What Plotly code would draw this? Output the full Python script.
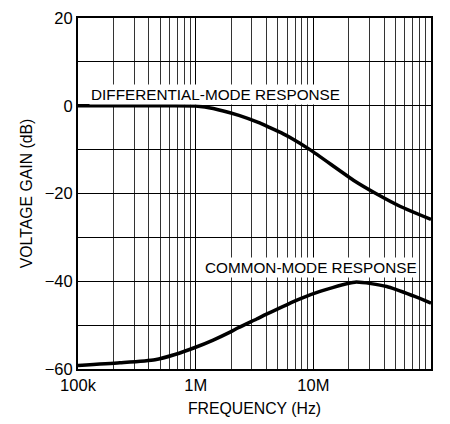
import plotly.graph_objects as go

# Differential-mode response
diff_freq = [1e5, 3e5, 6e5, 1.0e6, 1.2e6, 1.72e6, 2.33e6, 3.4e6, 4.28e6, 5.55e6, 6.3e6, 9.35e6, 22.6e6, 34e6, 54.4e6, 1e8]
diff_gain = [0.0, 0.0, 0.0, -0.05, -0.3, -1.2, -2.2, -3.8, -5.0, -6.4, -7.2, -10.0, -17.2, -20.0, -22.9, -25.9]

# Common-mode response
cm_freq = [1e5, 2.27e5, 4.51e5, 6.67e5, 9.86e5, 1.41e6, 1.96e6, 2.3e6, 3.3e6, 4.0e6, 7.7e6, 11.4e6, 22.6e6, 42e6, 70e6, 1e8]
cm_gain = [-59.2, -58.6, -57.9, -56.7, -55.1, -53.4, -51.6, -50.6, -48.6, -47.5, -44.0, -42.3, -40.2, -41.2, -43.3, -45.0]

x_tickvals = [1e5, 1e6, 1e7, 1e8]
x_ticktext = ["100k", "1M", "10M", "100M"]
y_tickvals = [-60, -40, -20, 0, 20]

FONT = "Liberation Sans, Arial, sans-serif"

fig = go.Figure()
fig.add_trace(go.Scatter(x=diff_freq, y=diff_gain, mode="lines",
                         line=dict(color="black", width=3.5, shape="spline", smoothing=0.6),
                         hoverinfo="skip", showlegend=False))
fig.add_trace(go.Scatter(x=cm_freq, y=cm_gain, mode="lines",
                         line=dict(color="black", width=3.5, shape="spline", smoothing=0.6),
                         hoverinfo="skip", showlegend=False))

fig.add_annotation(x=6.168, y=2.6, xref="x", yref="y", text="DIFFERENTIAL-MODE RESPONSE",
                   showarrow=False, bgcolor="white", borderpad=1,
                   font=dict(family=FONT, size=15.3, color="black"))
fig.add_annotation(x=6.98, y=-36.9, xref="x", yref="y", text="COMMON-MODE RESPONSE",
                   showarrow=False, bgcolor="white", borderpad=1,
                   font=dict(family=FONT, size=15.3, color="black"))

fig.update_xaxes(type="log", range=[5, 8], tickvals=x_tickvals, ticktext=x_ticktext,
                 automargin=False,
                 showgrid=True, gridcolor="black", gridwidth=1,
                 minor=dict(dtick="D1", showgrid=True, gridcolor="#333333", gridwidth=1, ticks=""),
                 ticks="", showline=True, linecolor="black", linewidth=2, mirror=True,
                 title=dict(text="FREQUENCY (Hz)", standoff=10, font=dict(family=FONT, size=15.8, color="black")),
                 tickfont=dict(family=FONT, size=16.5, color="black"), zeroline=False)
fig.update_yaxes(range=[-60, 20], tickvals=y_tickvals, showgrid=True, gridcolor="black", gridwidth=1,
                 automargin=False,
                 minor=dict(dtick=10, showgrid=True, gridcolor="black", gridwidth=1, ticks=""),
                 ticks="", showline=True, linecolor="black", linewidth=2, mirror=True, zeroline=False,
                 title=dict(text="VOLTAGE GAIN (dB)", standoff=8, font=dict(family=FONT, size=15.8, color="black")),
                 tickfont=dict(family=FONT, size=16.5, color="black"))

fig.update_layout(width=450, height=424, margin=dict(l=78, r=19, t=18, b=55),
                  plot_bgcolor="white", paper_bgcolor="white", font=dict(family=FONT, color="black"))

fig.write_html("out.html", config={"displayModeBar": False},
               post_script="document.body.style.margin='0';")
